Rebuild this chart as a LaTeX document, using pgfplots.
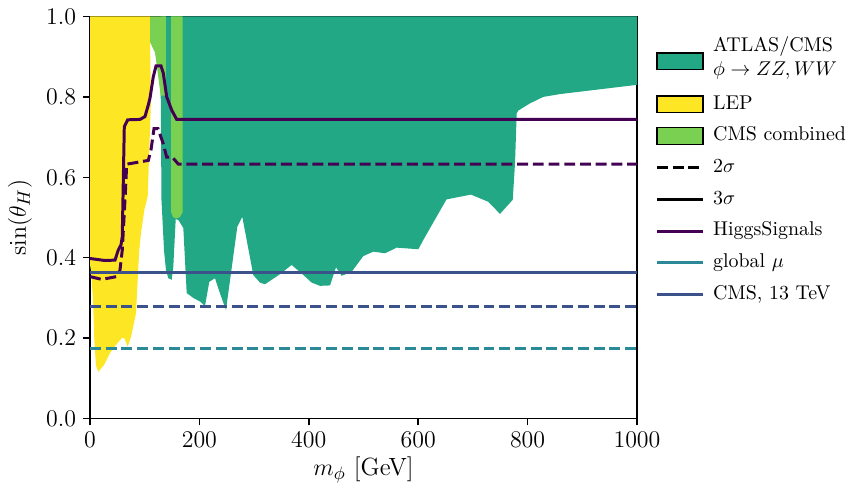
\documentclass[border=0pt]{standalone}
\usepackage{pgfplots}
\pgfplotsset{compat=1.18}
\definecolor{atlas}{HTML}{22A884}
\definecolor{lep}{HTML}{FDE725}
\definecolor{cmsc}{HTML}{7AD151}
\definecolor{hs}{HTML}{440154}
\definecolor{gmu}{HTML}{2C8A98}
\definecolor{cms13}{HTML}{3B528B}
\pgfplotsset{
 patchlegend/.style={legend image code/.code={\draw[##1] (0pt,-4.2pt) rectangle (23pt,4.2pt); \path (25.5pt,0pt);}},
 linelegend/.style={legend image code/.code={\draw[##1] (0pt,0pt) -- (23pt,0pt); \path (25.5pt,0pt);}},
 mydash/.style={dash pattern=on 5.5pt off 2.4pt},
}
\begin{document}
\begin{tikzpicture}
\useasboundingbox (-45bp,-36.25bp) rectangle (386.5bp,209.25bp);
\begin{axis}[
 scale only axis, width=273.5bp, height=201bp,
 xmin=0, xmax=1000, ymin=0, ymax=1,
 axis line style={line width=0.8pt},
 tick pos=left, tick align=outside,
 major tick length=3.5pt,
 every tick/.style={black, line width=0.8pt},
 xtick={0,200,400,600,800,1000},
 ytick={0,0.2,0.4,0.6,0.8,1.0},
 tick label style={font=\fontsize{11.5}{13}\selectfont},
 xticklabel style={/pgf/number format/.cd, 1000 sep={}},
 yticklabel style={/pgf/number format/.cd, fixed, fixed zerofill, precision=1},
 xlabel={$m_\phi$ [GeV]},
 ylabel={$\sin(\theta_H)$},
 label style={font=\fontsize{12.5}{14}\selectfont},
 xlabel style={at={(axis description cs:0.5,-0.128)}, anchor=center},
 ylabel style={at={(axis description cs:-0.128,0.5)}, anchor=center},
 legend cell align=left,
 legend style={at={(axis description cs:1,1)}, anchor=north west, xshift=6bp, yshift=-6.5bp,
   draw=none, fill=none, row sep=0pt,
   nodes={text height=7.4pt, text depth=2.5pt, inner ysep=3pt}},
]
% ATLAS/CMS phi -> ZZ, WW
\addplot[fill=atlas, draw=none, forget plot] coordinates {
(129.3,1.0) (1000,1.0) (1000,0.830) (859.2,0.807) (828.7,0.800) (804.4,0.784)
(783,0.766) (780.1,0.759) (777,0.635) (772.8,0.544) (749.5,0.509) (728.2,0.539)
(696.5,0.557) (651.7,0.545) (609.3,0.444) (600.2,0.421) (560.7,0.425) (539.3,0.411)
(517.9,0.415) (499.6,0.404) (478.4,0.365) (460.1,0.355) (449.7,0.376) (438.8,0.331)
(420.5,0.330) (405.3,0.338) (390,0.357) (368.7,0.382) (347.3,0.359) (319.9,0.334)
(310.8,0.338) (298.5,0.357) (278.4,0.502) (269.3,0.477) (248.6,0.270) (237.7,0.311)
(228.5,0.349) (218.1,0.340) (210.2,0.280) (201.1,0.291) (188.8,0.300) (176.8,0.312)
(170.6,0.474) (161.4,0.494) (156.7,0.496) (152.3,0.378) (149.4,0.345) (143.1,0.349)
(138.9,0.369) (135.3,0.419) (130.7,0.543) (129.3,0.803)
} -- cycle;
% LEP
\addplot[fill=lep, draw=none, forget plot] coordinates {
(0,1.0) (109.7,1.0) (109.7,0.937) (111.5,0.792) (110.2,0.743) (108.4,0.668)
(105.5,0.552) (99.3,0.519) (93.2,0.461) (90.1,0.419) (89,0.394) (87.2,0.345)
(84.1,0.262) (75,0.203) (68.9,0.179) (62.7,0.2) (58,0.2) (47.5,0.183)
(36.6,0.163) (25.6,0.133) (15.2,0.116) (11,0.131) (7.9,0.195) (5.5,0.295)
(1.8,0.369) (0,0.382)
} -- cycle;
% CMS combined
\addplot[fill=cmsc, draw=none, forget plot] coordinates {
(109.7,1.0) (138.9,1.0) (138.9,0.803) (129.3,0.803) (124.9,0.849) (118.8,0.911) (109.7,0.936)
} -- cycle;
\addplot[fill=cmsc, draw=none, forget plot] coordinates {
(148.1,1.0) (169.5,1.0) (169.5,0.514) (164.5,0.501) (157.2,0.4975) (151.7,0.501) (148.1,0.514)
} -- cycle;
% HiggsSignals 3 sigma
\addplot[hs, line width=1.5pt, forget plot] coordinates {
(0,0.398) (27.4,0.393) (45.7,0.394) (51.7,0.419) (56.7,0.432) (59,0.452)
(62.7,0.726) (68.9,0.743) (91.4,0.744) (100.5,0.751) (106.6,0.780) (109.7,0.797)
(115.7,0.850) (120.7,0.877) (129.8,0.877) (134,0.859) (140.2,0.800) (149.4,0.767)
(158.5,0.744) (1000,0.744)
};
% HiggsSignals 2 sigma
\addplot[hs, line width=1.5pt, mydash, forget plot] coordinates {
(0,0.353) (21.4,0.346) (48.8,0.353) (54.8,0.369) (59,0.419) (64.9,0.568)
(67.1,0.633) (73.1,0.634) (106.6,0.642) (111.5,0.668) (117,0.721) (124.3,0.721)
(134,0.683) (140.2,0.650) (150.5,0.650) (161.4,0.633) (1000,0.633)
};
% global mu 2 sigma
\addplot[gmu, line width=1.5pt, mydash, forget plot] coordinates {(0,0.175) (1000,0.175)};
% CMS 13 TeV
\addplot[cms13, line width=1.5pt, forget plot] coordinates {(0,0.363) (1000,0.363)};
\addplot[cms13, line width=1.5pt, mydash, forget plot] coordinates {(0,0.278) (1000,0.278)};
% legend
\addlegendimage{patchlegend, fill=atlas, draw=black, line width=0.8pt}
\addlegendentry[text height=12pt, text depth=9.4pt]{\begin{tabular}{@{}l@{}}ATLAS/CMS\\$\phi\rightarrow ZZ,WW$\end{tabular}}
\addlegendimage{patchlegend, fill=lep, draw=black, line width=0.8pt}
\addlegendentry{LEP}
\addlegendimage{patchlegend, fill=cmsc, draw=black, line width=0.8pt}
\addlegendentry{CMS combined}
\addlegendimage{linelegend, black, line width=1.5pt, mydash}
\addlegendentry{$2\sigma$}
\addlegendimage{linelegend, black, line width=1.5pt}
\addlegendentry{$3\sigma$}
\addlegendimage{linelegend, hs, line width=1.5pt}
\addlegendentry{HiggsSignals}
\addlegendimage{linelegend, gmu, line width=1.5pt}
\addlegendentry{global $\mu$}
\addlegendimage{linelegend, cms13, line width=1.5pt}
\addlegendentry{CMS, 13 TeV}
\end{axis}
\end{tikzpicture}
\end{document}
